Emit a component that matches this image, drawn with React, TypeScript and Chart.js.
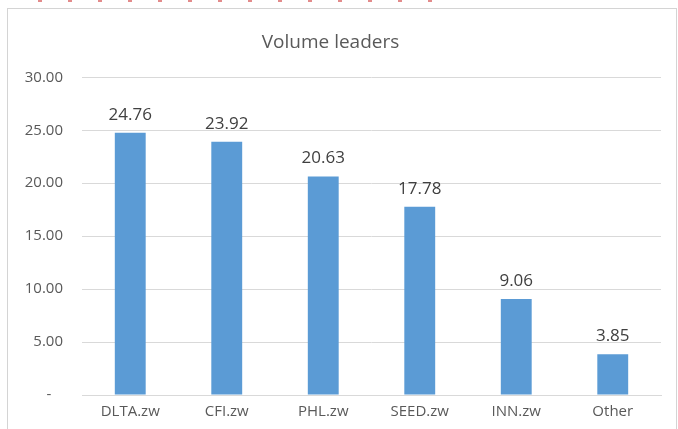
import React, { useEffect, useRef } from "react";
import { Chart, registerables } from "chart.js";

Chart.register(...registerables);

const categories = ["DLTA.zw", "CFI.zw", "PHL.zw", "SEED.zw", "INN.zw", "Other"];
const volumes = [24.76, 23.92, 20.63, 17.78, 9.06, 3.85];
const yTickValues = [0, 5, 10, 15, 20, 25, 30];
const chartTitle = "Volume leaders";

const FONT = "'Open Sans', 'Noto Sans', sans-serif";

const valueLabels = {
  id: "valueLabels",
  afterDatasetsDraw(chart: any) {
    const ctx = chart.ctx;
    const meta = chart.getDatasetMeta(0);
    const data = chart.data.datasets[0].data as number[];
    ctx.save();
    ctx.font = `17px ${FONT}`;
    ctx.fillStyle = "#404040";
    ctx.textAlign = "center";
    ctx.textBaseline = "middle";
    meta.data.forEach((bar: any, i: number) => {
      ctx.fillText(data[i].toFixed(2), bar.x, bar.y - 18);
    });
    ctx.restore();
  },
};

export default function App() {
  const ref = useRef<HTMLCanvasElement | null>(null);

  useEffect(() => {
    if (!ref.current) return;
    const chart = new Chart(ref.current, {
      type: "bar",
      data: {
        labels: categories,
        datasets: [
          {
            data: volumes,
            backgroundColor: "#5B9BD5",
            borderColor: "#5B9BD5",
            borderWidth: 0,
            barPercentage: 0.32,
            categoryPercentage: 1,
          },
        ],
      },
      options: {
        responsive: false,
        animation: false,
        layout: { padding: { left: 0, right: 17, top: 0, bottom: 0 } },
        plugins: {
          legend: { display: false },
          tooltip: { enabled: false },
          title: {
            display: true,
            text: chartTitle,
            color: "#595959",
            font: { family: FONT, size: 19, weight: "normal" },
            padding: { top: 31, bottom: 23.5 },
          },
        },
        scales: {
          x: {
            grid: { display: false, drawTicks: false },
            border: { display: true, color: "#d9d9d9" },
            ticks: {
              color: "#595959",
              font: { family: FONT, size: 15 },
              padding: 8,
            },
            afterFit: (s: any) => {
              s.height = 34;
            },
          },
          y: {
            min: 0,
            max: 30,
            afterBuildTicks: (s: any) => {
              s.ticks = yTickValues.map((v) => ({ value: v }));
            },
            grid: { color: "#d9d9d9", drawTicks: false },
            border: { display: false },
            ticks: {
              color: "#595959",
              font: { family: FONT, size: 15 },
              padding: 19,
              callback: (v: any) => (Number(v) === 0 ? "-   " : Number(v).toFixed(2)),
            },
            afterFit: (s: any) => {
              s.width = 82;
            },
          },
        },
      },
      plugins: [valueLabels],
    });
    return () => chart.destroy();
  }, []);

  return (
    <div style={{ position: "absolute", left: 0, top: 0, width: 678, height: 429, background: "#fff", overflow: "hidden" }}>
      <div
        style={{
          position: "absolute",
          left: 38,
          top: 0,
          width: 396,
          height: 2,
          background: "repeating-linear-gradient(90deg, rgba(215,90,90,0.7) 0px, rgba(215,90,90,0.7) 4px, transparent 4px, transparent 30px)",
        }}
      />
      <div
        style={{
          position: "absolute",
          left: 7,
          top: 8,
          width: 670,
          height: 430,
          border: "1px solid #d4d4d4",
          boxSizing: "border-box",
        }}
      />
      <canvas ref={ref} width={678} height={429} style={{ position: "absolute", left: 0, top: 0 }} />
    </div>
  );
}
